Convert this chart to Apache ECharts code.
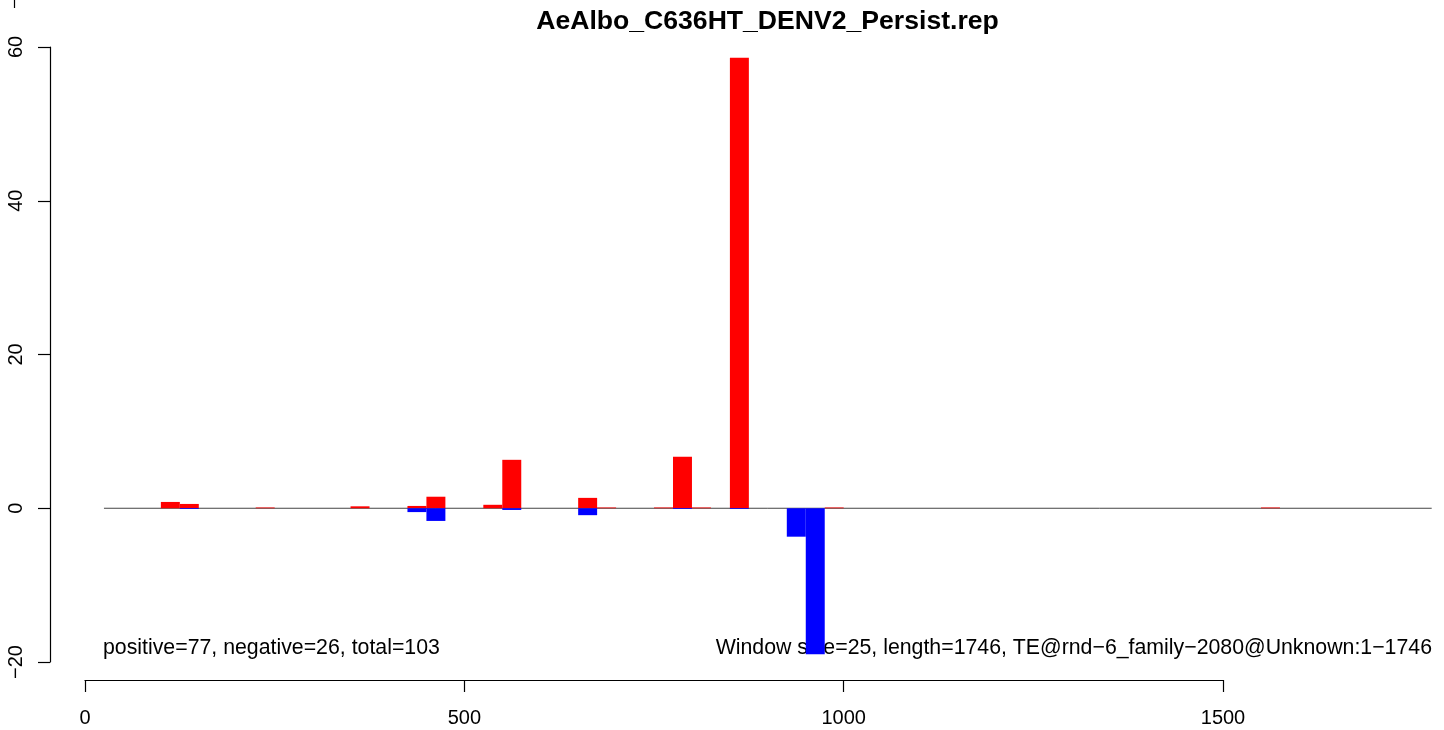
<!DOCTYPE html>
<html>
<head>
<meta charset="utf-8">
<script src="https://cdn.jsdelivr.net/npm/echarts@6/dist/echarts.min.js"></script>
<style>
html,body{margin:0;padding:0;background:#fff;}
#chart{width:1444px;height:730px;}
</style>
</head>
<body>
<div id="chart"></div>
<script>
// ---- data ----
const windowSize = 25;
const windowStarts = [100, 125, 225, 350, 425, 450, 525, 550, 650, 675, 750, 775, 800, 850, 925, 950, 975, 1550];
const redValues    = [0.82, 0.56, 0.1, 0.25, 0.3, 1.5, 0.45, 6.3, 1.35, 0.1, 0.1, 6.7, 0.1, 58.6, 0, 0, 0.1, 0.1];
const blueValues   = [0, -0.1, 0, 0, -0.5, -1.65, 0, -0.22, -0.9, 0, 0, -0.1, 0, -0.1, -3.7, -19, 0, 0];
const baselineRange = [25, 1775];
const xTicks = [0, 500, 1000, 1500];
const yTicks = [-20, 0, 20, 40, 60];
const titleText = 'AeAlbo_C636HT_DENV2_Persist.rep';
const leftNote = 'positive=77, negative=26, total=103';
const rightNote = 'Window size=25, length=1746, TE@rnd\u22126_family\u22122080@Unknown:1\u22121746';

const FONT = "'Liberation Sans', Arial, Helvetica, sans-serif";

function barSeries(values, color) {
  return {
    type: 'custom',
    xAxisIndex: 0, yAxisIndex: 0,
    z: 3,
    data: windowStarts.map((s, i) => [s, values[i]]),
    renderItem: function (params, api) {
      const s = api.value(0), v = api.value(1);
      if (!v) return null;
      const p1 = api.coord([s, v]);
      const p2 = api.coord([s + windowSize, 0]);
      return {
        type: 'rect',
        shape: {
          x: p1[0], y: Math.min(p1[1], p2[1]),
          width: p2[0] - p1[0], height: Math.abs(p2[1] - p1[1])
        },
        style: { fill: color }
      };
    }
  };
}

const chart = echarts.init(document.getElementById('chart'), null, { renderer: 'canvas' });
chart.setOption({
  animation: false,
  backgroundColor: '#ffffff',
  textStyle: { fontFamily: FONT },
  grid: [
    { left: 85, width: 1346.7, top: 47, height: 615 },
    { left: 85, width: 1138, top: 670, height: 10 }
  ],
  xAxis: [
    { gridIndex: 0, type: 'value', min: 0, max: 1775, show: false },
    {
      gridIndex: 1, type: 'value', min: 0, max: 1500, interval: 500,
      position: 'bottom',
      axisLine: { show: true, onZero: false, lineStyle: { color: '#000', width: 1.2 } },
      axisTick: { show: true, length: 12, lineStyle: { color: '#000', width: 1.2 } },
      axisLabel: { show: true, fontSize: 20, color: '#000', margin: 28, fontFamily: FONT,
        formatter: v => (xTicks.indexOf(v) >= 0 ? String(v) : '') },
      splitLine: { show: false }
    }
  ],
  yAxis: [
    {
      gridIndex: 0, type: 'value', min: -20, max: 60, interval: 20,
      position: 'left', offset: 35,
      axisLine: { show: true, onZero: false, lineStyle: { color: '#000', width: 1.2 } },
      axisTick: { show: true, length: 12, lineStyle: { color: '#000', width: 1.2 } },
      axisLabel: { show: true, rotate: 90, fontSize: 20, color: '#000', margin: 24, fontFamily: FONT,
        formatter: v => (yTicks.indexOf(v) >= 0 ? String(v).replace('-', '\u2212') : '') },
      splitLine: { show: false }
    },
    { gridIndex: 1, type: 'value', min: 0, max: 1, show: false }
  ],
  series: [
    {
      type: 'line', xAxisIndex: 0, yAxisIndex: 0, z: 1,
      symbol: 'none', silent: true,
      data: [[baselineRange[0], 0], [baselineRange[1], 0]],
      lineStyle: { color: '#444', width: 1 }
    },
    barSeries(redValues, '#ff0000'),
    barSeries(blueValues, '#0000ff')
  ],
  graphic: [
    { type: 'text', style: { text: titleText, x: 767.5, y: 22, align: 'center', verticalAlign: 'middle',
        font: 'bold 26.6px ' + FONT, fill: '#000' } },
    { type: 'text', style: { text: leftNote, x: 103, y: 648, align: 'left', verticalAlign: 'middle',
        font: '21.3px ' + FONT, fill: '#000' } },
    { type: 'text', style: { text: rightNote, x: 1432, y: 648, align: 'right', verticalAlign: 'middle',
        font: '21.3px ' + FONT, fill: '#000' } },
    { type: 'line', shape: { x1: 14.5, y1: 0, x2: 14.5, y2: 8 }, style: { stroke: '#000', lineWidth: 1.2 } }
  ]
});
</script>
</body>
</html>
